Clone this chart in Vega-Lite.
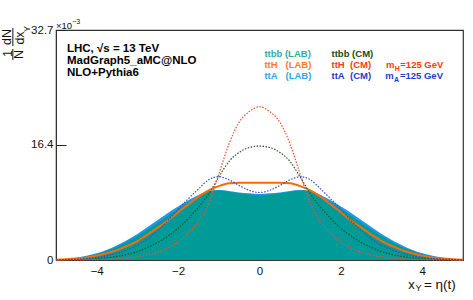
{
  "$schema": "https://vega.github.io/schema/vega-lite/v6.json",
  "width": 407,
  "height": 230,
  "autosize": {"type": "none"},
  "padding": {"left": 56, "top": 30, "right": 10, "bottom": 40},
  "config": {
    "font": "Liberation Sans",
    "view": {"stroke": "#333", "strokeWidth": 1.2},
    "axis": {"grid": false}
  },
  "datasets": {
    "hist": [
      {"x": -5, "bL": 0.05, "aL": 0.06, "hL": 0.04, "bC": 0.01, "hC": 0, "aC": 0.02},
      {"x": -4.75, "bL": 0.14, "aL": 0.16, "hL": 0.1, "bC": 0.02, "hC": 0.01, "aC": 0.06},
      {"x": -4.5, "bL": 0.28, "aL": 0.33, "hL": 0.2, "bC": 0.05, "hC": 0.02, "aC": 0.12},
      {"x": -4.25, "bL": 0.5, "aL": 0.6, "hL": 0.35, "bC": 0.1, "hC": 0.03, "aC": 0.22},
      {"x": -4, "bL": 0.8, "aL": 0.95, "hL": 0.6, "bC": 0.17, "hC": 0.06, "aC": 0.37},
      {"x": -3.75, "bL": 1.3, "aL": 1.45, "hL": 0.95, "bC": 0.3, "hC": 0.1, "aC": 0.6},
      {"x": -3.5, "bL": 1.9, "aL": 2.1, "hL": 1.4, "bC": 0.5, "hC": 0.17, "aC": 0.95},
      {"x": -3.25, "bL": 2.6, "aL": 2.85, "hL": 2.0, "bC": 0.8, "hC": 0.28, "aC": 1.45},
      {"x": -3, "bL": 3.4, "aL": 3.7, "hL": 2.7, "bC": 1.2, "hC": 0.45, "aC": 2.1},
      {"x": -2.75, "bL": 4.3, "aL": 4.7, "hL": 3.6, "bC": 1.8, "hC": 0.7, "aC": 3.0},
      {"x": -2.5, "bL": 5.3, "aL": 5.7, "hL": 4.6, "bC": 2.5, "hC": 1.1, "aC": 4.2},
      {"x": -2.25, "bL": 6.3, "aL": 6.7, "hL": 5.6, "bC": 3.4, "hC": 1.7, "aC": 5.6},
      {"x": -2, "bL": 7.2, "aL": 7.6, "hL": 6.8, "bC": 4.5, "hC": 2.6, "aC": 7.2},
      {"x": -1.75, "bL": 8.2, "aL": 8.5, "hL": 7.9, "bC": 5.9, "hC": 3.8, "aC": 8.7},
      {"x": -1.5, "bL": 9.0, "aL": 9.25, "hL": 9.0, "bC": 7.5, "hC": 5.5, "aC": 10.1},
      {"x": -1.25, "bL": 9.7, "aL": 9.8, "hL": 9.9, "bC": 9.4, "hC": 8.0, "aC": 11.4},
      {"x": -1, "bL": 9.9, "aL": 9.95, "hL": 10.5, "bC": 11.8, "hC": 12.2, "aC": 11.85},
      {"x": -0.75, "bL": 9.7, "aL": 9.8, "hL": 10.9, "bC": 14.0, "hC": 16.5, "aC": 11.4},
      {"x": -0.5, "bL": 9.5, "aL": 9.6, "hL": 11.0, "bC": 15.3, "hC": 19.6, "aC": 10.6},
      {"x": -0.25, "bL": 9.3, "aL": 9.5, "hL": 11.0, "bC": 16.0, "hC": 21.1, "aC": 9.9},
      {"x": 0, "bL": 9.2, "aL": 9.4, "hL": 11.0, "bC": 16.2, "hC": 21.8, "aC": 9.6},
      {"x": 0.25, "bL": 9.3, "aL": 9.5, "hL": 11.0, "bC": 16.0, "hC": 21.1, "aC": 9.9},
      {"x": 0.5, "bL": 9.5, "aL": 9.6, "hL": 11.0, "bC": 15.3, "hC": 19.6, "aC": 10.6},
      {"x": 0.75, "bL": 9.7, "aL": 9.8, "hL": 10.9, "bC": 14.0, "hC": 16.5, "aC": 11.4},
      {"x": 1, "bL": 9.9, "aL": 9.95, "hL": 10.5, "bC": 11.8, "hC": 12.2, "aC": 11.85},
      {"x": 1.25, "bL": 9.7, "aL": 9.8, "hL": 9.9, "bC": 9.4, "hC": 8.0, "aC": 11.4},
      {"x": 1.5, "bL": 9.0, "aL": 9.25, "hL": 9.0, "bC": 7.5, "hC": 5.5, "aC": 10.1},
      {"x": 1.75, "bL": 8.2, "aL": 8.5, "hL": 7.9, "bC": 5.9, "hC": 3.8, "aC": 8.7},
      {"x": 2, "bL": 7.2, "aL": 7.6, "hL": 6.8, "bC": 4.5, "hC": 2.6, "aC": 7.2},
      {"x": 2.25, "bL": 6.3, "aL": 6.7, "hL": 5.6, "bC": 3.4, "hC": 1.7, "aC": 5.6},
      {"x": 2.5, "bL": 5.3, "aL": 5.7, "hL": 4.6, "bC": 2.5, "hC": 1.1, "aC": 4.2},
      {"x": 2.75, "bL": 4.3, "aL": 4.7, "hL": 3.6, "bC": 1.8, "hC": 0.7, "aC": 3.0},
      {"x": 3, "bL": 3.4, "aL": 3.7, "hL": 2.7, "bC": 1.2, "hC": 0.45, "aC": 2.1},
      {"x": 3.25, "bL": 2.6, "aL": 2.85, "hL": 2.0, "bC": 0.8, "hC": 0.28, "aC": 1.45},
      {"x": 3.5, "bL": 1.9, "aL": 2.1, "hL": 1.4, "bC": 0.5, "hC": 0.17, "aC": 0.95},
      {"x": 3.75, "bL": 1.3, "aL": 1.45, "hL": 0.95, "bC": 0.3, "hC": 0.1, "aC": 0.6},
      {"x": 4, "bL": 0.8, "aL": 0.95, "hL": 0.6, "bC": 0.17, "hC": 0.06, "aC": 0.37},
      {"x": 4.25, "bL": 0.5, "aL": 0.6, "hL": 0.35, "bC": 0.1, "hC": 0.03, "aC": 0.22},
      {"x": 4.5, "bL": 0.28, "aL": 0.33, "hL": 0.2, "bC": 0.05, "hC": 0.02, "aC": 0.12},
      {"x": 4.75, "bL": 0.14, "aL": 0.16, "hL": 0.1, "bC": 0.02, "hC": 0.01, "aC": 0.06},
      {"x": 5, "bL": 0.05, "aL": 0.06, "hL": 0.04, "bC": 0.01, "hC": 0, "aC": 0.02}
    ],
    "one": [{}]
  },
  "layer": [
    {
      "data": {"name": "hist"},
      "mark": {"type": "area", "interpolate": "monotone", "color": "#1f97ee"},
      "encoding": {
        "x": {"field": "x", "type": "quantitative", "scale": {"domain": [-5, 5], "nice": false},
          "axis": {"values": [-4, -2, 0, 2, 4], "format": "d", "tickSize": -7, "labelPadding": 12, "title": null, "domain": true, "domainColor": "#333", "tickColor": "#222", "labelFontSize": 11.5, "labelColor": "#111", "labelFlush": false}},
        "y": {"field": "aL", "type": "quantitative", "scale": {"domain": [0, 32.7], "nice": false, "zero": true},
          "axis": {"values": [0, 16.4, 32.7], "format": ".1~f", "tickSize": -10, "labelPadding": 13, "title": null, "domain": true, "domainColor": "#333", "tickColor": "#222", "labelFontSize": 11.5, "labelColor": "#111", "labelFlush": false}}
      }
    },
    {
      "data": {"name": "hist"},
      "mark": {"type": "area", "interpolate": "monotone", "color": "#009b98"},
      "encoding": {"x": {"field": "x", "type": "quantitative"}, "y": {"field": "bL", "type": "quantitative"}}
    },
    {
      "data": {"name": "hist"},
      "mark": {"type": "line", "interpolate": "monotone", "color": "#ff6a00", "strokeWidth": 2},
      "encoding": {"x": {"field": "x", "type": "quantitative"}, "y": {"field": "hL", "type": "quantitative"}}
    },
    {
      "data": {"name": "hist"},
      "mark": {"type": "line", "interpolate": "monotone", "color": "#1d5a1d", "strokeWidth": 1.2, "strokeDash": [1.5, 1.5]},
      "encoding": {"x": {"field": "x", "type": "quantitative"}, "y": {"field": "bC", "type": "quantitative"}}
    },
    {
      "data": {"name": "hist"},
      "mark": {"type": "line", "interpolate": "monotone", "color": "#f2502a", "strokeWidth": 1.2, "strokeDash": [1.5, 1.5]},
      "encoding": {"x": {"field": "x", "type": "quantitative"}, "y": {"field": "hC", "type": "quantitative"}}
    },
    {
      "data": {"name": "hist"},
      "mark": {"type": "line", "interpolate": "monotone", "color": "#2f4fd6", "strokeWidth": 1.2, "strokeDash": [1.5, 1.5]},
      "encoding": {"x": {"field": "x", "type": "quantitative"}, "y": {"field": "aC", "type": "quantitative"}}
    },
    {"data": {"name": "one"}, "mark": {"type": "text", "align": "left", "baseline": "alphabetic", "fontSize": 11.5, "fontWeight": "bold", "color": "#000"},
      "encoding": {"x": {"datum": -4.73}, "y": {"datum": 29.61}, "text": {"value": "LHC, √s = 13 TeV"}}},
    {"data": {"name": "one"}, "mark": {"type": "text", "align": "left", "baseline": "alphabetic", "fontSize": 11.5, "fontWeight": "bold", "color": "#000"},
      "encoding": {"x": {"datum": -4.73}, "y": {"datum": 27.86}, "text": {"value": "MadGraph5_aMC@NLO"}}},
    {"data": {"name": "one"}, "mark": {"type": "text", "align": "left", "baseline": "alphabetic", "fontSize": 11.5, "fontWeight": "bold", "color": "#000"},
      "encoding": {"x": {"datum": -4.73}, "y": {"datum": 26.16}, "text": {"value": "NLO+Pythia6"}}},
    {"data": {"name": "one"}, "mark": {"type": "text", "align": "left", "baseline": "alphabetic", "fontSize": 9.5, "fontWeight": "bold", "color": "#34a8a6"},
      "encoding": {"x": {"datum": 0.12}, "y": {"datum": 28.86}, "text": {"value": "ttbb (LAB)"}}},
    {"data": {"name": "one"}, "mark": {"type": "text", "align": "left", "baseline": "alphabetic", "fontSize": 9.5, "fontWeight": "bold", "color": "#ff7a22"},
      "encoding": {"x": {"datum": 0.12}, "y": {"datum": 27.3}, "text": {"value": "ttH\u00a0\u00a0\u00a0(LAB)"}}},
    {"data": {"name": "one"}, "mark": {"type": "text", "align": "left", "baseline": "alphabetic", "fontSize": 9.5, "fontWeight": "bold", "color": "#2ea6ee"},
      "encoding": {"x": {"datum": 0.12}, "y": {"datum": 25.73}, "text": {"value": "ttA\u00a0\u00a0\u00a0(LAB)"}}},
    {"data": {"name": "one"}, "mark": {"type": "text", "align": "left", "baseline": "alphabetic", "fontSize": 9.5, "fontWeight": "bold", "color": "#1a4a1a"},
      "encoding": {"x": {"datum": 1.77}, "y": {"datum": 28.86}, "text": {"value": "ttbb (CM)"}}},
    {"data": {"name": "one"}, "mark": {"type": "text", "align": "left", "baseline": "alphabetic", "fontSize": 9.5, "fontWeight": "bold", "color": "#ff3a12"},
      "encoding": {"x": {"datum": 1.77}, "y": {"datum": 27.3}, "text": {"value": "ttH\u00a0\u00a0(CM)"}}},
    {"data": {"name": "one"}, "mark": {"type": "text", "align": "left", "baseline": "alphabetic", "fontSize": 9.5, "fontWeight": "bold", "color": "#ff3a12"},
      "encoding": {"x": {"datum": 3.11}, "y": {"datum": 27.3}, "text": {"value": "m"}}},
    {"data": {"name": "one"}, "mark": {"type": "text", "align": "left", "baseline": "alphabetic", "fontSize": 7, "fontWeight": "bold", "color": "#ff3a12"},
      "encoding": {"x": {"datum": 3.325}, "y": {"datum": 26.9}, "text": {"value": "H"}}},
    {"data": {"name": "one"}, "mark": {"type": "text", "align": "left", "baseline": "alphabetic", "fontSize": 9.5, "fontWeight": "bold", "color": "#ff3a12"},
      "encoding": {"x": {"datum": 3.46}, "y": {"datum": 27.3}, "text": {"value": "=125 GeV"}}},
    {"data": {"name": "one"}, "mark": {"type": "text", "align": "left", "baseline": "alphabetic", "fontSize": 9.5, "fontWeight": "bold", "color": "#1c3dcc"},
      "encoding": {"x": {"datum": 1.77}, "y": {"datum": 25.73}, "text": {"value": "ttA\u00a0\u00a0(CM)"}}},
    {"data": {"name": "one"}, "mark": {"type": "text", "align": "left", "baseline": "alphabetic", "fontSize": 9.5, "fontWeight": "bold", "color": "#1c3dcc"},
      "encoding": {"x": {"datum": 3.09}, "y": {"datum": 25.73}, "text": {"value": "m"}}},
    {"data": {"name": "one"}, "mark": {"type": "text", "align": "left", "baseline": "alphabetic", "fontSize": 7, "fontWeight": "bold", "color": "#1c3dcc"},
      "encoding": {"x": {"datum": 3.305}, "y": {"datum": 25.33}, "text": {"value": "A"}}},
    {"data": {"name": "one"}, "mark": {"type": "text", "align": "left", "baseline": "alphabetic", "fontSize": 9.5, "fontWeight": "bold", "color": "#1c3dcc"},
      "encoding": {"x": {"datum": 3.45}, "y": {"datum": 25.73}, "text": {"value": "=125 GeV"}}},
    {"data": {"name": "one"}, "mark": {"type": "text", "align": "left", "baseline": "alphabetic", "fontSize": 9.5, "color": "#111"},
      "encoding": {"x": {"datum": -5.0}, "y": {"datum": 32.9}, "text": {"value": "×10"}}},
    {"data": {"name": "one"}, "mark": {"type": "text", "align": "left", "baseline": "alphabetic", "fontSize": 7, "color": "#111"},
      "encoding": {"x": {"datum": -4.6}, "y": {"datum": 33.6}, "text": {"value": "−3"}}},
    {"data": {"name": "one"}, "mark": {"type": "text", "align": "left", "baseline": "alphabetic", "fontSize": 13, "color": "#111"},
      "encoding": {"x": {"datum": 3.654}, "y": {"datum": -4.17}, "text": {"value": "x"}}},
    {"data": {"name": "one"}, "mark": {"type": "text", "align": "left", "baseline": "alphabetic", "fontSize": 9, "color": "#111"},
      "encoding": {"x": {"datum": 3.83}, "y": {"datum": -4.41}, "text": {"value": "Y"}}},
    {"data": {"name": "one"}, "mark": {"type": "text", "align": "left", "baseline": "alphabetic", "fontSize": 13.5, "color": "#111"},
      "encoding": {"x": {"datum": 4.04}, "y": {"datum": -4.17}, "text": {"value": "=\u00a0η(t)"}}},
    {"data": {"name": "one"}, "mark": {"type": "text", "align": "center", "baseline": "middle", "angle": 270, "fontSize": 12.5, "color": "#111"},
      "encoding": {"x": {"datum": -6.19}, "y": {"datum": 29.36}, "text": {"value": "1"}}},
    {"data": {"name": "one"}, "mark": {"type": "text", "align": "center", "baseline": "middle", "angle": 270, "fontSize": 12.5, "color": "#111"},
      "encoding": {"x": {"datum": -5.9}, "y": {"datum": 29.22}, "text": {"value": "N"}}},
    {"data": {"name": "one"}, "mark": {"type": "text", "align": "center", "baseline": "middle", "angle": 270, "fontSize": 12.5, "color": "#111"},
      "encoding": {"x": {"datum": -6.2}, "y": {"datum": 31.7}, "text": {"value": "dN"}}},
    {"data": {"name": "one"}, "mark": {"type": "text", "align": "center", "baseline": "middle", "angle": 270, "fontSize": 12.5, "color": "#111"},
      "encoding": {"x": {"datum": -5.89}, "y": {"datum": 31.56}, "text": {"value": "dx"}}},
    {"data": {"name": "one"}, "mark": {"type": "text", "align": "center", "baseline": "middle", "angle": 270, "fontSize": 9, "color": "#111"},
      "encoding": {"x": {"datum": -5.71}, "y": {"datum": 32.84}, "text": {"value": "Y"}}},
    {"data": {"name": "one"}, "mark": {"type": "rule", "color": "#111", "strokeWidth": 1},
      "encoding": {"x": {"datum": -6.06}, "y": {"datum": 30.0}, "y2": {"datum": 28.43}}},
    {"data": {"name": "one"}, "mark": {"type": "rule", "color": "#111", "strokeWidth": 1},
      "encoding": {"x": {"datum": -6.06}, "y": {"datum": 32.98}, "y2": {"datum": 30.42}}}
  ]
}
